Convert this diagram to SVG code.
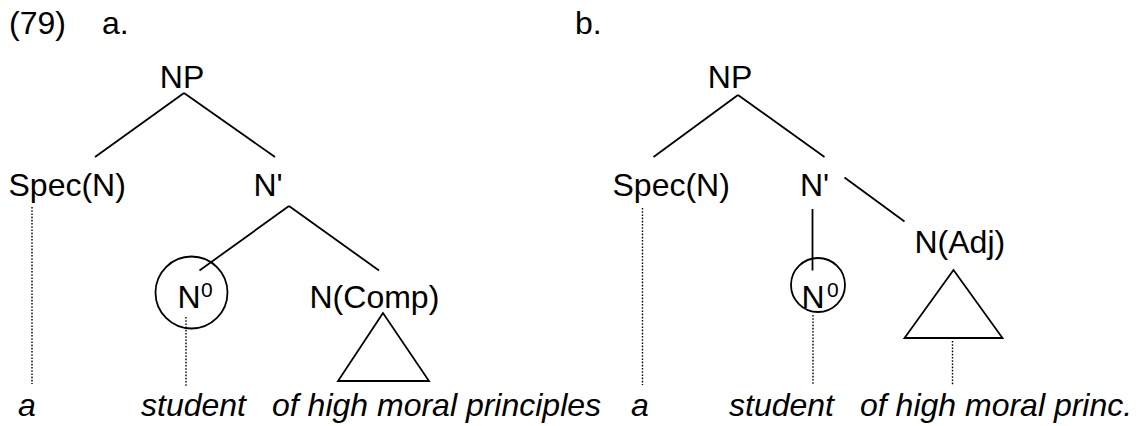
<svg xmlns="http://www.w3.org/2000/svg" width="1139" height="426" viewBox="0 0 1139 426">
<style>
text{font-family:"Liberation Sans",Arial,sans-serif;font-size:32px;fill:#000}
.it{font-style:italic}
.sup{font-size:21px}
.ln{stroke:#000;stroke-width:1.8;fill:none}
.dot{stroke:#000;stroke-width:1.4;stroke-dasharray:1.6 1.6;fill:none}
</style>
<rect width="1139" height="426" fill="#fff"/>
<g id="labels">
<text x="9" y="34">(79)</text>
<text x="102" y="34">a.</text>
<text x="575" y="34">b.</text>
</g>
<g id="tree-a">
<g id="a-NP"><text x="182" y="88" text-anchor="middle">NP</text></g>
<g id="a-Spec"><text x="8.5" y="196">Spec(N)</text></g>
<g id="a-Nbar"><text x="253.5" y="196">N'</text></g>
<g id="a-N0"><circle class="ln" cx="191.5" cy="292.5" r="36"/><text x="177.5" y="308">N</text><text class="sup" x="201" y="297">0</text></g>
<g id="a-NComp"><text x="309.5" y="308">N(Comp)</text><polygon class="ln" points="383,313 338,381 429,381"/></g>
<g id="a-words">
<text class="it" x="18" y="416">a</text>
<text class="it" x="141" y="416">student</text>
<text class="it" x="272" y="416">of high moral principles</text>
</g>
</g>
<g id="tree-b">
<g id="b-NP"><text x="730" y="88" text-anchor="middle">NP</text></g>
<g id="b-Spec"><text x="612.5" y="196">Spec(N)</text></g>
<g id="b-Nbar"><text x="800" y="196">N'</text></g>
<g id="b-N0"><circle class="ln" cx="818" cy="285" r="27"/><text x="801.5" y="308">N</text><text class="sup" x="827" y="297">0</text></g>
<g id="b-NAdj"><text x="914.5" y="253">N(Adj)</text><polygon class="ln" points="953.5,270 904.5,338 1002.5,338"/></g>
<g id="b-words">
<text class="it" x="631" y="416">a</text>
<text class="it" x="729" y="416">student</text>
<text class="it" x="860" y="416">of high moral princ.</text>
</g>
</g>
<g id="connectors">
<line class="ln" x1="184" y1="93" x2="95" y2="157"/>
<line class="ln" x1="184" y1="93" x2="275" y2="157"/>
<line class="ln" x1="289" y1="206" x2="199.5" y2="270.5"/>
<line class="ln" x1="289" y1="206" x2="379" y2="270.5"/>
<line class="dot" x1="32" y1="207" x2="32" y2="384"/>
<line class="dot" x1="186" y1="317" x2="186" y2="386"/>
<line class="ln" x1="738" y1="95" x2="653.5" y2="157"/>
<line class="ln" x1="738" y1="95" x2="824.5" y2="157"/>
<line class="ln" x1="812.5" y1="209" x2="812.5" y2="270.5"/>
<line class="ln" x1="844.5" y1="177.5" x2="904.5" y2="221.5"/>
<line class="dot" x1="642.5" y1="208" x2="642.5" y2="385"/>
<line class="dot" x1="813" y1="315" x2="813" y2="385"/>
<line class="dot" x1="952.5" y1="341" x2="952.5" y2="385"/>
</g>
</svg>
